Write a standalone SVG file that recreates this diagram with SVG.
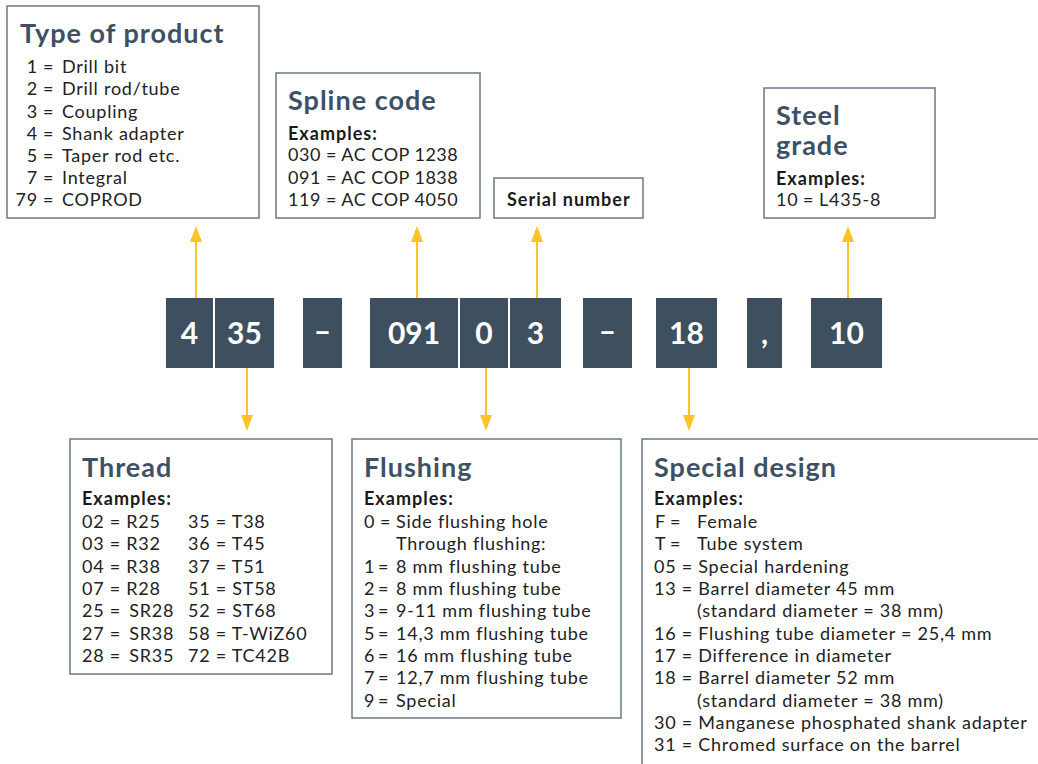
<svg xmlns="http://www.w3.org/2000/svg" width="1038" height="764" viewBox="0 0 1038 764">
<style>
  .box{fill:#fff;stroke:#6b7886;stroke-width:1.5}
  .title{font-family:Lato,"Liberation Sans",sans-serif;font-weight:700;font-size:27px;letter-spacing:1px;fill:#3e5164}
  .ex{font-family:Lato,"Liberation Sans",sans-serif;font-weight:700;font-size:18px;letter-spacing:1px;fill:#1a1a1a}
  .t{font-family:Lato,"Liberation Sans",sans-serif;font-size:18px;letter-spacing:0.75px;fill:#222}
  .sp{letter-spacing:0.5px}
  .code{fill:#3e4f5f}
  .ct{font-family:Lato,"Liberation Sans",sans-serif;font-weight:700;font-size:30px;fill:#fff;text-anchor:middle}
  .arrow{stroke:#ffc229;stroke-width:2;fill:none}
</style>
<defs>
  <marker id="ah" markerUnits="userSpaceOnUse" markerWidth="16" markerHeight="12" refX="0" refY="6" orient="auto" viewBox="0 0 16 12">
    <path d="M0,0 L16,6 L0,12 z" fill="#ffc229"/>
  </marker>
</defs>
<rect width="1038" height="764" fill="#fff"/>

<g id="type-of-product">
  <rect class="box" x="7" y="6" width="252" height="212"/>
  <text class="title" x="20" y="43">Type of product</text>
  <g class="t">
    <text x="38" y="73" text-anchor="end">1</text><text x="43" y="73">=</text><text x="62" y="73">Drill bit</text>
    <text x="38" y="95" text-anchor="end">2</text><text x="43" y="95">=</text><text x="62" y="95">Drill rod/tube</text>
    <text x="38" y="117.5" text-anchor="end">3</text><text x="43" y="117.5">=</text><text x="62" y="117.5">Coupling</text>
    <text x="38" y="140" text-anchor="end">4</text><text x="43" y="140">=</text><text x="62" y="140">Shank adapter</text>
    <text x="38" y="162" text-anchor="end">5</text><text x="43" y="162">=</text><text x="62" y="162">Taper rod etc.</text>
    <text x="38" y="184" text-anchor="end">7</text><text x="43" y="184">=</text><text x="62" y="184">Integral</text>
    <text x="38" y="206" text-anchor="end">79</text><text x="43" y="206">=</text><text x="62" y="206">COPROD</text>
  </g>
</g>

<g id="spline-code">
  <rect class="box" x="276" y="73" width="204" height="145"/>
  <text class="title" x="288" y="110">Spline code</text>
  <text class="ex" x="288" y="140">Examples:</text>
  <text class="t sp" x="288" y="161">030 = AC COP 1238</text>
  <text class="t sp" x="288" y="183.5">091 = AC COP 1838</text>
  <text class="t sp" x="288" y="206">119 = AC COP 4050</text>
</g>

<g id="serial-number">
  <rect class="box" x="494" y="178" width="149" height="40"/>
  <text class="ex" x="507" y="206">Serial number</text>
</g>

<g id="steel-grade">
  <rect class="box" x="764" y="88" width="171" height="130"/>
  <text class="title" x="776" y="125">Steel</text>
  <text class="title" x="776" y="155">grade</text>
  <text class="ex" x="776" y="185">Examples:</text>
  <text class="t" x="776" y="206">10</text><text class="t" x="803" y="206">=</text><text class="t" x="819" y="206">L435-8</text>
</g>

<g id="code-4"><rect class="code" x="166" y="298" width="47" height="70"/><text class="ct" x="189.5" y="344">4</text></g>
<g id="code-35"><rect class="code" x="215" y="298" width="59" height="70"/><text class="ct" x="244.5" y="344">35</text></g>
<g id="code-dash1"><rect class="code" x="303" y="298" width="39" height="70"/><text class="ct" x="322.5" y="342">–</text></g>
<g id="code-091"><rect class="code" x="370" y="298" width="88" height="70"/><text class="ct" x="414" y="344">091</text></g>
<g id="code-0"><rect class="code" x="460" y="298" width="48" height="70"/><text class="ct" x="484" y="344">0</text></g>
<g id="code-3"><rect class="code" x="510" y="298" width="51" height="70"/><text class="ct" x="535.5" y="344">3</text></g>
<g id="code-dash2"><rect class="code" x="583" y="298" width="49" height="70"/><text class="ct" x="607.5" y="342">–</text></g>
<g id="code-18"><rect class="code" x="656" y="298" width="61" height="70"/><text class="ct" x="686.5" y="344">18</text></g>
<g id="code-comma"><rect class="code" x="747" y="298" width="35" height="70"/><text class="ct" x="764.5" y="344">,</text></g>
<g id="code-10"><rect class="code" x="811" y="298" width="71" height="70"/><text class="ct" x="846.5" y="344">10</text></g>

<g id="connectors">
  <line class="arrow" x1="196" y1="298" x2="196" y2="242" marker-end="url(#ah)"/>
  <line class="arrow" x1="417" y1="298" x2="417" y2="242" marker-end="url(#ah)"/>
  <line class="arrow" x1="537" y1="298" x2="537" y2="242" marker-end="url(#ah)"/>
  <line class="arrow" x1="848" y1="298" x2="848" y2="242" marker-end="url(#ah)"/>
  <line class="arrow" x1="247" y1="368" x2="247" y2="415" marker-end="url(#ah)"/>
  <line class="arrow" x1="486" y1="368" x2="486" y2="415" marker-end="url(#ah)"/>
  <line class="arrow" x1="689" y1="368" x2="689" y2="415" marker-end="url(#ah)"/>
</g>

<g id="thread">
  <rect class="box" x="70" y="439" width="262" height="235"/>
  <text class="title" x="82" y="477">Thread</text>
  <text class="ex" x="82" y="505">Examples:</text>
  <g class="t">
    <text x="82" y="528">02 = R25</text><text x="188" y="528">35 = T38</text>
    <text x="82" y="550">03 = R32</text><text x="188" y="550">36 = T45</text>
    <text x="82" y="573">04 = R38</text><text x="188" y="573">37 = T51</text>
    <text x="82" y="595">07 = R28</text><text x="188" y="595">51 = ST58</text>
    <text x="82" y="617">25 = <tspan dx="3">SR28</tspan></text><text x="188" y="617">52 = ST68</text>
    <text x="82" y="640">27 = <tspan dx="3">SR38</tspan></text><text x="188" y="640">58 = T-WiZ60</text>
    <text x="82" y="662">28 = <tspan dx="3">SR35</tspan></text><text x="188" y="662">72 = TC42B</text>
  </g>
</g>

<g id="flushing">
  <rect class="box" x="352" y="439" width="269" height="279"/>
  <text class="title" x="364" y="477">Flushing</text>
  <text class="ex" x="364" y="505">Examples:</text>
  <g class="t">
    <text x="364" y="528">0</text><text x="380" y="528">=</text><text x="396" y="528">Side flushing hole</text>
    <text x="396" y="550">Through flushing:</text>
    <text x="364" y="573">1</text><text x="378" y="573">=</text><text x="396" y="573">8 mm flushing tube</text>
    <text x="364" y="595">2</text><text x="378" y="595">=</text><text x="396" y="595">8 mm flushing tube</text>
    <text x="364" y="617">3</text><text x="378" y="617">=</text><text x="396" y="617">9-11 mm flushing tube</text>
    <text x="364" y="640">5</text><text x="378" y="640">=</text><text x="396" y="640">14,3 mm flushing tube</text>
    <text x="364" y="662">6</text><text x="378" y="662">=</text><text x="396" y="662">16 mm flushing tube</text>
    <text x="364" y="684">7</text><text x="378" y="684">=</text><text x="396" y="684">12,7 mm flushing tube</text>
    <text x="364" y="707">9</text><text x="378" y="707">=</text><text x="396" y="707">Special</text>
  </g>
</g>

<g id="special-design">
  <path class="box" d="M1038,439 H642 V764"/>
  <text class="title" x="654" y="477">Special design</text>
  <text class="ex" x="654" y="505">Examples:</text>
  <g class="t">
    <text x="655" y="528">F</text><text x="670" y="528">=</text><text x="697" y="528">Female</text>
    <text x="655" y="550">T</text><text x="670" y="550">=</text><text x="697" y="550">Tube system</text>
    <text x="654" y="573">05 = Special hardening</text>
    <text x="654" y="595">13 = Barrel diameter 45 mm</text>
    <text x="697" y="617">(standard diameter = 38 mm)</text>
    <text x="654" y="640">16 = Flushing tube diameter = 25,4 mm</text>
    <text x="654" y="662">17 = Difference in diameter</text>
    <text x="654" y="684">18 = Barrel diameter 52 mm</text>
    <text x="697" y="707">(standard diameter = 38 mm)</text>
    <text x="654" y="729">30 = Manganese phosphated shank adapter</text>
    <text x="654" y="751">31 = Chromed surface on the barrel</text>
  </g>
</g>
</svg>
